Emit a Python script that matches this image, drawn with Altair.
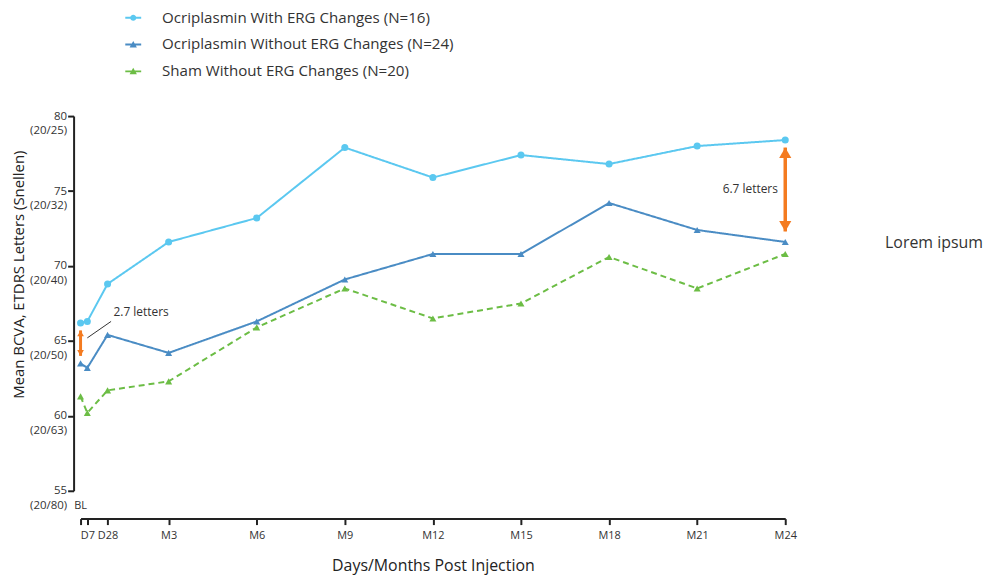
import altair as alt
import pandas as pd

# ---------------- data ----------------
timepoints = ["BL", "D7", "D28", "M3", "M6", "M9", "M12", "M15", "M18", "M21", "M24"]
months = [0, 0.23, 0.92, 3, 6, 9, 12, 15, 18, 21, 24]
with_erg = [66.2, 66.3, 68.8, 71.6, 73.2, 77.9, 75.9, 77.4, 76.8, 78.0, 78.4]
without_erg = [63.5, 63.2, 65.4, 64.2, 66.3, 69.1, 70.8, 70.8, 74.2, 72.4, 71.6]
sham = [61.3, 60.2, 61.7, 62.3, 65.9, 68.5, 66.5, 67.5, 70.6, 68.5, 70.8]

series_names = [
    "Ocriplasmin With ERG Changes (N=16)",
    "Ocriplasmin Without ERG Changes (N=24)",
    "Sham Without ERG Changes (N=20)",
]
y_ticks = [55, 60, 65, 70, 75, 80]
snellen = ["(20/80)", "(20/63)", "(20/50)", "(20/40)", "(20/32)", "(20/25)"]

arrow_months = [0, 24]
arrow_top = [65.7, 77.9]
arrow_bottom = [64.0, 72.3]

leader_x = [0.23, 1.04]
leader_y = [65.2, 66.3]

notes = ["2.7 letters", "6.7 letters", "Lorem ipsum", "BL"]
note_x = [1.12, 23.75, 27.4, 0]
note_y = [66.9, 75.15, 71.5, 55]

# ---------------- styles ----------------
colors = ["#5BC8F0", "#4A8CC4", "#6CBD45"]
shapes = ["circle", "triangle-up", "triangle-up"]
dashes = [[1, 0], [1, 0], [6, 4]]
ORANGE = "#F47B20"
TEXT = "#333333"
FONT = "Open Sans"
NBSP = "\u00a0"

rows = []
for name, vals in zip(series_names, [with_erg, without_erg, sham]):
    for tp, m, v in zip(timepoints, months, vals):
        rows.append({"series": name, "tp": tp, "month": m, "bcva": v})
df = pd.DataFrame(rows)

# label expressions built from the lists
x_expr = "''"
for m, tp in zip(months, timepoints):
    lab = "" if tp == "BL" else tp
    x_expr = f"abs(datum.value - {m}) < 0.01 ? '{lab}' : ({x_expr})"
sn_expr = "''"
for t, s in zip(y_ticks, snellen):
    sn_expr = f"datum.value == {t} ? '{s}' : ({sn_expr})"
y_expr = f"[datum.label + '{NBSP * 2}', {sn_expr}]"

# legend symbols: short bar with the series marker on it (fill only)
bar = "M-1,-0.12H1V0.12H-1Z"
marker_paths = {
    "circle": bar + "M0.38,0A0.38,0.38 0 1,1 -0.38,0A0.38,0.38 0 1,1 0.38,0Z",
    "triangle-up": bar + "M0,-0.44L0.46,0.36L-0.46,0.36Z",
}
legend_paths = [marker_paths[s] for s in shapes]

legend = alt.Legend(
    title=None,
    orient="none",
    legendX=45,
    legendY=-107,
    padding=0,
    labelFontSize=15.2,
    labelFont=FONT,
    labelColor=TEXT,
    labelOffset=21,
    labelLimit=500,
    symbolSize=256,
    symbolStrokeWidth=0,
    symbolOpacity=1,
    rowPadding=10,
)

x_scale = alt.Scale(domain=[0, 24], nice=False, zero=False)
y_scale = alt.Scale(domain=[55, 80], nice=False, zero=False)

x_axis = alt.Axis(
    values=months,
    labelExpr=x_expr,
    offset=28,
    tickSize=6,
    labelPadding=5,
    labelFontSize=11,
    labelFlush=False,
    labelOverlap=False,
    grid=False,
    title="Days/Months Post Injection",
    titleFontSize=16,
    titleFontWeight="normal",
    titlePadding=17,
)
y_axis = alt.Axis(
    values=y_ticks,
    labelExpr=y_expr,
    offset=7,
    tickSize=6,
    labelPadding=1,
    labelFontSize=11.5,
    labelAlign="right",
    labelBaseline="top",
    labelOffset=-6,
    labelLineHeight=15,
    labelOverlap=False,
    labelFlush=False,
    grid=False,
    title="Mean BCVA, ETDRS Letters (Snellen)",
    titleFontSize=15,
    titleFontWeight="normal",
    titlePadding=3,
    titleY=159,
)

color_scale = alt.Scale(domain=series_names, range=colors)

# legend-only layer (draws no marks; supplies the legend entries)
legend_layer = (
    alt.Chart(df)
    .transform_filter("false")
    .mark_point(filled=True, opacity=1, size=256)
    .encode(
        x=alt.X("month:Q", scale=x_scale),
        y=alt.Y("bcva:Q", scale=y_scale),
        color=alt.Color("series:N", scale=color_scale, legend=legend),
        shape=alt.Shape("series:N", scale=alt.Scale(domain=series_names, range=legend_paths), legend=None),
    )
)

lines = alt.Chart(df).mark_line(strokeWidth=2).encode(
    x=alt.X("month:Q", scale=x_scale, axis=x_axis),
    y=alt.Y("bcva:Q", scale=y_scale, axis=y_axis),
    stroke=alt.Stroke("series:N", scale=color_scale, legend=None),
    strokeDash=alt.StrokeDash(
        "series:N", scale=alt.Scale(domain=series_names, range=dashes), legend=None
    ),
    order="month:Q",
)

point_layers = []
for shp in dict.fromkeys(shapes):
    members = [n for n, s in zip(series_names, shapes) if s == shp]
    point_layers.append(
        alt.Chart(df)
        .transform_filter(alt.FieldOneOfPredicate(field="series", oneOf=members))
        .mark_point(filled=True, opacity=1, size=50, shape=shp)
        .encode(
            x=alt.X("month:Q", scale=x_scale),
            y=alt.Y("bcva:Q", scale=y_scale),
            color=alt.Color("series:N", scale=color_scale, legend=None),
        )
    )

arr_df = pd.DataFrame({"month": arrow_months, "top": arrow_top, "bottom": arrow_bottom})


def arrow(i, head, width):
    d = arr_df.iloc[[i]]
    base = alt.Chart(d)
    shaft = base.mark_rule(color=ORANGE, strokeWidth=width).encode(
        x=alt.X("month:Q", scale=x_scale), y=alt.Y("top:Q", scale=y_scale), y2="bottom:Q"
    )
    h = 0.433 * head ** 0.5
    up = base.mark_point(shape="triangle-up", filled=True, opacity=1, color=ORANGE, size=head, yOffset=h).encode(
        x=alt.X("month:Q", scale=x_scale), y=alt.Y("top:Q", scale=y_scale)
    )
    dn = base.mark_point(shape="triangle-down", filled=True, opacity=1, color=ORANGE, size=head, yOffset=-h).encode(
        x=alt.X("month:Q", scale=x_scale), y=alt.Y("bottom:Q", scale=y_scale)
    )
    return shaft + up + dn


leader = alt.Chart(pd.DataFrame({"x": [leader_x[0]], "y": [leader_y[0]], "x2": [leader_x[1]], "y2": [leader_y[1]]})).mark_rule(
    color=TEXT, strokeWidth=1
).encode(x=alt.X("x:Q", scale=x_scale), y=alt.Y("y:Q", scale=y_scale), x2="x2:Q", y2="y2:Q")

ndf = pd.DataFrame({"t": notes, "x": note_x, "y": note_y})


def note(i, **kw):
    return alt.Chart(ndf.iloc[[i]]).mark_text(font=FONT, color=TEXT, **kw).encode(
        x=alt.X("x:Q", scale=x_scale), y=alt.Y("y:Q", scale=y_scale), text="t:N"
    )


texts = (
    note(0, align="left", baseline="middle", fontSize=12)
    + note(1, align="right", baseline="middle", fontSize=12)
    + note(2, align="left", baseline="middle", fontSize=16)
    + note(3, align="center", baseline="middle", fontSize=11, dy=15)
)

chart = (
    alt.layer(legend_layer, lines, *point_layers, arrow(0, 45, 3), arrow(1, 150, 3.5), leader, texts)
    .properties(width=709, height=377, padding={"left": 3, "top": 0, "right": 5, "bottom": 2})
    .configure(font=FONT)
    .configure_view(stroke="transparent", strokeWidth=0)
    .configure_axis(
        domainColor="#222222",
        domainWidth=2,
        tickColor="#222222",
        tickWidth=2,
        labelColor=TEXT,
        titleColor="#222222",
        labelFont=FONT,
        titleFont=FONT,
    )
)

chart.save("out.html", embed_options={"renderer": "svg", "actions": False})
